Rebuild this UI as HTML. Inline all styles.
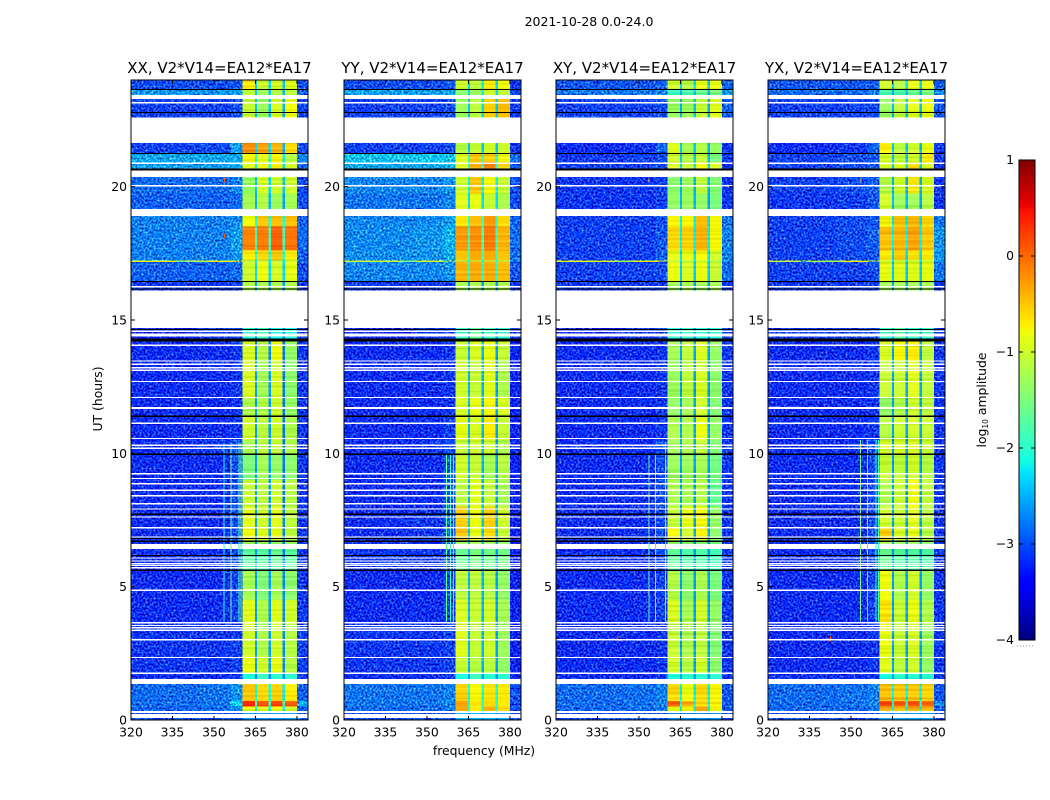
<!DOCTYPE html>
<html>
<head>
<meta charset="utf-8">
<title>2021-10-28 0.0-24.0</title>
<style>
html,body{margin:0;padding:0;background:#fff;}
svg{display:block;}
text{font-family:"DejaVu Sans","Liberation Sans",sans-serif;fill:#000;}
</style>
</head>
<body>
<svg id="figure" xmlns="http://www.w3.org/2000/svg" width="1050" height="800" viewBox="0 0 1050 800">
<defs>
<filter id="speckle" x="0" y="0" width="1" height="1" color-interpolation-filters="sRGB">
<feTurbulence type="fractalNoise" baseFrequency="0.5" numOctaves="1" seed="7" result="n"/>
<feColorMatrix in="n" type="matrix" values="1 0 0 0 0 1 0 0 0 0 1 0 0 0 0 0 0 0 0 1" result="g"/>
<feComposite in="SourceGraphic" in2="g" operator="arithmetic" k1="0" k2="1" k3="1.3" k4="-0.65" result="m"/>
<feComposite in="m" in2="SourceAlpha" operator="in"/>
</filter>
<filter id="stripes" x="0" y="0" width="1" height="1" color-interpolation-filters="sRGB">
<feTurbulence type="fractalNoise" baseFrequency="0.004 0.42" numOctaves="1" seed="11" result="n"/>
<feColorMatrix in="n" type="matrix" values="1 0 0 0 0 1 0 0 0 0 1 0 0 0 0 0 0 0 0 1" result="g"/>
<feComposite in="SourceGraphic" in2="g" operator="arithmetic" k1="0" k2="1" k3="0.35" k4="-0.175" result="m"/>
<feComposite in="m" in2="SourceAlpha" operator="in"/>
</filter>
</defs>
<rect width="1050" height="800" fill="#fff"/>
<text x="589" y="26" font-size="12.5" text-anchor="middle">2021-10-28 0.0-24.0</text>
<text x="484" y="755" font-size="12.4" text-anchor="middle">frequency (MHz)</text>
<text transform="translate(102,399) rotate(-90)" font-size="12.4" text-anchor="middle">UT (hours)</text>
<text transform="translate(986,400) rotate(-90)" font-size="12.4" text-anchor="middle">log<tspan font-size="7.5" dy="2">10</tspan><tspan dy="-2"> amplitude</tspan></text>
<g id="panels"></g>
<g id="colorbar"></g>
</svg>
<script>
// Frequency channel group edges (MHz) and UT row spans (hours)
const freqEdges = [320,345,356,360.3,364.8,365.6,369.8,370.6,374.8,375.6,380,384];
const utRows = [
[24,23.64],[23.64,23.44],[23.28,22.6],[21.64,21.25],[21.25,20.92],[20.92,20.6],[20.36,19.75],[19.75,19.17],
[18.9,18.5],[18.5,17.6],[17.6,17.24],[17.24,17.2],[17.2,16.46],[16.46,16.1],[14.7,14.3],[14.3,13.5],
[13.5,12.1],[12.1,11.4],[11.4,10.5],[10.5,10],[10,9],[9,8],[8,7.2],[7.2,6.75],
[6.75,6.6],[6.41,5.65],[5.65,4.5],[4.5,3.6],[3.6,2.4],[2.4,1.75],[1.75,1.53],[1.35,0.71],
[0.71,0.5],[0.5,0.33],[0.26,0.23],[0.08,0]
];
// log10 amplitude per row and channel group
const xxValues = [
[-3,-3,-2.95,-0.7,-2.3,-1,-2.3,-0.95,-2.4,-0.9,-3],
[-2.65,-2.65,-2.6,-1.1,-2.4,-1.3,-2.4,-1.15,-2.5,-1.1,-2.9],
[-3.05,-3.05,-3,-1.05,-2.4,-1.3,-2.4,-0.95,-2.5,-0.8,-3.05],
[-3.05,-3,-2.6,-0.2,-2.3,-0.3,-2.3,-0.4,-2.5,-0.6,-3],
[-2.55,-2.55,-2.55,-0.75,-2,-0.85,-2,-0.7,-2.2,-1.15,-2.7],
[-2.6,-2.6,-2.55,-0.9,-2.2,-0.75,-2.1,-0.7,-2.3,-0.95,-2.9],
[-2.85,-2.85,-2.75,-1.35,-2.4,-0.95,-2.3,-1,-2.4,-1,-3],
[-2.9,-2.9,-2.85,-1.25,-2.5,-1.15,-2.5,-1.3,-2.6,-1.25,-3],
[-2.75,-2.75,-2.7,-0.8,-2.1,-0.5,-2,-0.45,-2.1,-0.45,-2.9],
[-2.75,-2.75,-2.6,-0.15,-1.9,-0.1,-1.8,0.05,-1.9,-0.05,-2.85],
[-2.75,-2.75,-2.65,-0.7,-2,-0.6,-2,-0.5,-2,-0.7,-2.9],
[-1,-0.9,-1,-1.3,-2.2,-1.3,-2.2,-1.3,-2.2,-1.3,-2.6],
[-2.9,-2.9,-2.85,-1,-2.3,-0.8,-2.3,-0.95,-2.3,-0.85,-3],
[-3.1,-3.1,-3.1,-1.2,-2.6,-1.2,-2.6,-1.2,-2.6,-1.2,-3.1],
[-3.2,-3.1,-3.1,-2,-2.7,-1.9,-2.7,-2.1,-2.7,-2.1,-3.1],
[-3.15,-3.15,-3.1,-0.95,-2.7,-1.15,-2.7,-0.8,-2.8,-1.35,-3.1],
[-3.15,-3.15,-3.1,-0.95,-2.6,-1.25,-2.6,-0.95,-2.8,-1.4,-3.1],
[-3.15,-3.15,-3.1,-1.2,-2.6,-1.15,-2.6,-1,-2.8,-1.35,-3.1],
[-3.15,-3.15,-3.1,-1,-2.6,-1.1,-2.6,-1,-2.8,-1.2,-3.1],
[-3.15,-3.1,-3,-1.25,-2.6,-1.1,-2.6,-1.05,-2.8,-1.2,-3.1],
[-3.15,-3.15,-3,-1.5,-2.6,-1.25,-2.6,-1.35,-2.8,-1.4,-3.1],
[-3.15,-3.15,-3,-1.05,-2.6,-1.1,-2.6,-1,-2.8,-1.15,-3.1],
[-3.15,-3.15,-3,-0.9,-2.6,-1,-2.6,-0.85,-2.7,-1.1,-3.1],
[-3.15,-3.15,-3,-0.8,-2.6,-0.9,-2.6,-0.85,-2.7,-1.1,-3.1],
[-3.15,-3.15,-3,-1.3,-2.6,-1.3,-2.6,-1.3,-2.7,-1.3,-3.1],
[-3.15,-3.15,-3,-1.7,-2.6,-1.7,-2.6,-1.6,-2.7,-1.7,-3.1],
[-3.15,-3.15,-3.05,-1.25,-2.6,-1.45,-2.6,-1.25,-2.7,-1.4,-3.1],
[-3.15,-3.15,-3.05,-0.9,-2.6,-1.2,-2.6,-0.9,-2.7,-1,-3.1],
[-3.1,-3.1,-3.05,-1,-2.6,-1.2,-2.6,-1,-2.7,-1.15,-3.05],
[-3.1,-3.1,-3.05,-0.85,-2.6,-1,-2.6,-0.85,-2.7,-1.15,-3.05],
[-3.15,-3.15,-3.1,-2.1,-2.7,-1.9,-2.7,-2,-2.7,-2,-3.1],
[-2.85,-2.8,-2.65,-0.5,-2.1,-0.6,-2.1,-0.55,-2.2,-0.7,-2.9],
[-2.85,-2.8,-2.35,0.35,-1.8,0.1,-1.8,0.2,-1.9,0.05,-2.5],
[-2.9,-2.85,-2.7,-0.9,-2.2,-0.9,-2.2,-0.8,-2.2,-1,-2.95],
[-3,-3,-3,-2.6,-2.8,-2.6,-2.8,-2.6,-2.8,-2.6,-3],
[-3,-3,-3,-2.6,-2.8,-2.6,-2.8,-2.6,-2.8,-2.6,-3]
];
const yyValues = [
[-3,-3,-2.95,-1,-2.3,-1.1,-2.2,-0.7,-2.3,-0.8,-3.1],
[-2.6,-2.6,-2.55,-1.4,-2.3,-1.3,-2.2,-1,-2.3,-1.1,-3],
[-3.05,-3.05,-3,-1.3,-2.4,-1.1,-2.3,-0.55,-2.4,-0.45,-3.1],
[-3.05,-3.05,-3,-1.15,-2.4,-1.05,-2.4,-1,-2.4,-1,-3.1],
[-2.42,-2.4,-2.42,-0.9,-2,-0.5,-1.9,-0.55,-2,-0.8,-2.85],
[-2.55,-2.55,-2.5,-0.9,-2.1,-0.35,-2,-0.1,-2.1,-0.55,-2.95],
[-2.72,-2.72,-2.65,-1,-2.2,-0.5,-2.2,-0.75,-2.2,-1.05,-3],
[-2.8,-2.8,-2.72,-0.9,-2.3,-0.85,-2.3,-1.05,-2.3,-1.2,-3],
[-2.72,-2.7,-2.6,-0.65,-2,-0.45,-1.9,-0.25,-2,-0.6,-2.9],
[-2.7,-2.65,-2.5,-0.25,-1.9,-0.2,-1.8,-0.1,-1.9,-0.4,-2.85],
[-2.68,-2.65,-2.55,-0.5,-1.9,-0.35,-1.9,-0.35,-1.9,-0.5,-2.85],
[-1.1,-1,-1.3,-1.3,-2.2,-1.2,-2.2,-1.2,-2.2,-1.3,-2.6],
[-2.72,-2.72,-2.65,-0.4,-2,-0.35,-2,-0.35,-2,-0.45,-2.95],
[-3.1,-3.1,-3.1,-1.2,-2.6,-1.2,-2.6,-1.2,-2.6,-1.2,-3.1],
[-3.2,-3.1,-3.1,-1.9,-2.6,-1.6,-2.6,-1.9,-2.6,-2,-3.1],
[-3.15,-3.15,-3.1,-1.05,-2.5,-0.95,-2.5,-0.85,-2.6,-1.05,-3.2],
[-3.15,-3.15,-3.1,-1,-2.5,-1.05,-2.5,-0.9,-2.6,-1.2,-3.2],
[-3.15,-3.15,-3.1,-0.95,-2.5,-0.85,-2.5,-0.75,-2.6,-0.95,-3.2],
[-3.15,-3.15,-3.05,-0.85,-2.5,-0.95,-2.5,-0.7,-2.6,-1.05,-3.2],
[-3.15,-3.1,-3,-1.05,-2.5,-1,-2.5,-1,-2.6,-1.2,-3.2],
[-3.15,-3.15,-3,-1,-2.5,-1.05,-2.5,-1.25,-2.6,-1.15,-3.2],
[-3.15,-3.15,-3,-1.1,-2.5,-0.9,-2.5,-1.05,-2.6,-1.25,-3.2],
[-3.15,-3.1,-2.95,-0.55,-2.4,-0.8,-2.4,-0.55,-2.5,-1,-3.2],
[-3.15,-3.1,-2.95,-0.5,-2.4,-0.85,-2.4,-0.6,-2.5,-1.05,-3.2],
[-3.15,-3.15,-3,-1.3,-2.5,-1.25,-2.5,-1.3,-2.6,-1.35,-3.2],
[-3.1,-3.1,-3,-1.6,-2.5,-1.5,-2.5,-1.55,-2.6,-1.55,-3.2],
[-3.15,-3.15,-3.05,-1.1,-2.5,-1.1,-2.5,-1.15,-2.6,-1.35,-3.2],
[-3.15,-3.15,-3.05,-0.95,-2.5,-1.05,-2.5,-1,-2.6,-1.25,-3.2],
[-3.1,-3.1,-3.05,-0.9,-2.5,-1.05,-2.5,-1,-2.6,-1.3,-3.2],
[-3.1,-3.1,-3.05,-1.05,-2.5,-1.15,-2.5,-1.1,-2.6,-1.35,-3.2],
[-3.15,-3.15,-3.1,-2.1,-2.6,-1.9,-2.6,-2,-2.6,-2,-3.2],
[-2.8,-2.8,-2.75,-0.55,-2.1,-0.75,-2.1,-0.65,-2.1,-0.7,-3],
[-2.8,-2.8,-2.7,-0.3,-2,-0.65,-2,-0.6,-2,-0.7,-3],
[-2.85,-2.85,-2.75,-0.35,-2.1,-0.7,-2.1,-0.4,-2.1,-0.6,-3],
[-3,-3,-3,-2.5,-2.8,-2.5,-2.8,-2.5,-2.8,-2.5,-3],
[-3,-3,-3,-2.5,-2.8,-2.5,-2.8,-2.5,-2.8,-2.5,-3]
];
const xyValues = [
[-2.95,-2.95,-2.9,-1,-2.4,-1.15,-2.3,-0.85,-2.4,-0.85,-2.9],
[-2.8,-2.8,-2.75,-1.9,-2.5,-1.8,-2.4,-1.6,-2.5,-1.5,-2.6],
[-3.05,-3.05,-3,-1.3,-2.5,-1.3,-2.4,-1.05,-2.5,-0.9,-2.9],
[-3.15,-3.1,-2.9,-0.9,-2.4,-1.25,-2.4,-1.15,-2.5,-1.35,-3.1],
[-3.1,-3.05,-3,-1,-2.4,-1.15,-2.4,-1.05,-2.5,-1.5,-3.1],
[-3.05,-3.05,-3,-0.95,-2.4,-1.05,-2.3,-0.75,-2.4,-0.95,-3.1],
[-3.1,-3.1,-3.05,-1.4,-2.5,-1.3,-2.5,-1.1,-2.5,-1.45,-3.1],
[-3.1,-3.1,-3.05,-1.35,-2.5,-1.3,-2.5,-1.35,-2.6,-1.5,-3.1],
[-3.05,-3.05,-3,-0.75,-2.2,-0.75,-2.2,-0.45,-2.3,-0.75,-2.8],
[-3.05,-3.05,-2.95,-0.6,-2.2,-0.55,-2.2,-0.4,-2.2,-0.75,-2.75],
[-3.05,-3.05,-2.9,-0.85,-2.3,-0.85,-2.3,-0.75,-2.3,-1,-2.75],
[-0.9,-0.95,-1,-1.3,-2.2,-1.3,-2.2,-1.3,-2.2,-1.3,-2.6],
[-3.05,-3.05,-3,-0.85,-2.4,-0.95,-2.4,-0.85,-2.4,-1.05,-2.85],
[-3.1,-3.1,-3.1,-1.25,-2.6,-1.25,-2.6,-1.25,-2.6,-1.25,-3.1],
[-3.2,-3.1,-3.1,-2,-2.6,-1.9,-2.6,-2,-2.6,-2,-3.1],
[-3.15,-3.15,-3.1,-1.25,-2.6,-1.1,-2.6,-0.95,-2.6,-1.35,-3.1],
[-3.15,-3.15,-3.1,-1.3,-2.6,-1.1,-2.6,-0.95,-2.6,-1.4,-3.1],
[-3.15,-3.15,-3.1,-1.35,-2.6,-1.25,-2.6,-1,-2.6,-1.45,-3.1],
[-3.15,-3.15,-3.1,-1.2,-2.6,-1.2,-2.6,-0.85,-2.6,-1.35,-3.1],
[-3.15,-3.15,-3,-1.25,-2.6,-1.2,-2.6,-1.05,-2.6,-1.45,-3.1],
[-3.15,-3.15,-3,-1.3,-2.6,-1.3,-2.6,-1.25,-2.6,-1.55,-3.1],
[-3.15,-3.15,-3,-1.2,-2.6,-1.25,-2.6,-1.15,-2.6,-1.65,-3.1],
[-3.15,-3.15,-3,-1.05,-2.6,-0.85,-2.6,-0.75,-2.6,-1.35,-3.1],
[-3.15,-3.15,-3,-0.75,-2.6,-1,-2.6,-0.7,-2.6,-1.4,-3.1],
[-3.15,-3.15,-3,-1.3,-2.6,-1.4,-2.6,-1.4,-2.6,-1.5,-3.1],
[-3.15,-3.15,-3,-1.65,-2.6,-1.75,-2.6,-1.75,-2.6,-1.85,-3.1],
[-3.15,-3.15,-3.05,-1.15,-2.6,-1.4,-2.6,-1.2,-2.6,-1.5,-3.1],
[-3.15,-3.15,-3.05,-0.95,-2.6,-1.25,-2.6,-1,-2.6,-1.35,-3.1],
[-3.15,-3.15,-3.1,-1.05,-2.6,-1.2,-2.6,-1.1,-2.6,-1.45,-3.1],
[-3.15,-3.15,-3.1,-1,-2.6,-1.15,-2.6,-1,-2.6,-1.4,-3.1],
[-3.15,-3.15,-3.1,-2.1,-2.6,-2,-2.6,-2,-2.6,-2,-3.1],
[-2.85,-2.82,-2.75,-0.6,-2.2,-0.8,-2.2,-0.6,-2.2,-0.75,-2.95],
[-2.85,-2.82,-2.75,0.05,-2.1,-0.35,-2.1,-0.6,-2.1,-0.7,-2.9],
[-2.88,-2.85,-2.8,-0.85,-2.2,-0.75,-2.2,-0.35,-2.2,-0.75,-2.95],
[-3,-3,-3,-2.6,-2.8,-2.6,-2.8,-2.6,-2.8,-2.6,-3],
[-3,-3,-3,-2.6,-2.8,-2.6,-2.8,-2.6,-2.8,-2.6,-3]
];
const yxValues = [
[-2.95,-2.95,-2.9,-1,-2.4,-1.15,-2.3,-0.85,-2.4,-0.85,-2.9],
[-2.85,-2.85,-2.8,-1.8,-2.5,-1.8,-2.4,-1.6,-2.5,-1.5,-2.7],
[-3.05,-3.05,-3,-1.3,-2.5,-1.1,-2.4,-0.9,-2.5,-0.85,-2.95],
[-3.15,-3.1,-2.9,-0.7,-2.4,-1.1,-2.4,-1,-2.5,-0.85,-3.1],
[-3.05,-3,-2.95,-0.95,-2.4,-1.1,-2.4,-1,-2.5,-0.7,-3.1],
[-3.05,-3,-2.95,-0.95,-2.4,-0.95,-2.3,-0.6,-2.4,-0.95,-3.1],
[-3.05,-3,-2.9,-1.15,-2.5,-1,-2.5,-0.7,-2.5,-0.95,-3.1],
[-3.1,-3.05,-2.95,-1,-2.5,-1.3,-2.5,-1.3,-2.6,-1.15,-3.1],
[-3.05,-3,-2.95,-0.75,-2.2,-0.5,-2.2,-0.45,-2.3,-0.6,-2.8],
[-3.05,-3,-2.9,-0.45,-2.2,-0.4,-2.2,-0.3,-2.2,-0.5,-2.65],
[-3.05,-3,-2.95,-0.7,-2.3,-0.55,-2.3,-0.65,-2.3,-0.7,-2.65],
[-0.95,-1,-1.1,-1.3,-2.2,-1.3,-2.2,-1.3,-2.2,-1.3,-2.6],
[-3.05,-3.05,-3,-0.85,-2.4,-0.9,-2.4,-0.9,-2.4,-0.85,-2.8],
[-3.1,-3.1,-3.1,-1.25,-2.6,-1.25,-2.6,-1.25,-2.6,-1.25,-3.1],
[-3.1,-3.05,-3,-1.9,-2.5,-1.7,-2.5,-1.9,-2.6,-1.9,-3.1],
[-3.15,-3.15,-3.1,-0.95,-2.6,-0.75,-2.6,-0.7,-2.6,-1.1,-3.1],
[-3.15,-3.15,-3.1,-1.05,-2.6,-1.05,-2.6,-0.9,-2.6,-1.1,-3.1],
[-3.15,-3.15,-3.1,-1.35,-2.6,-1.2,-2.6,-1,-2.6,-1.1,-3.1],
[-3.15,-3.15,-3.1,-1.15,-2.6,-1.05,-2.6,-1,-2.6,-1.05,-3.1],
[-3.15,-3.15,-3,-0.95,-2.6,-0.95,-2.6,-0.9,-2.6,-1.05,-3.1],
[-3.15,-3.15,-3,-1.05,-2.6,-1.1,-2.6,-1,-2.6,-1.15,-3.1],
[-3.15,-3.15,-3,-1.2,-2.6,-1.05,-2.6,-0.8,-2.6,-1.1,-3.1],
[-3.15,-3.15,-3,-1,-2.6,-1.05,-2.6,-0.9,-2.6,-1.15,-3.1],
[-3.15,-3.15,-3,-0.55,-2.6,-0.95,-2.6,-0.85,-2.6,-1.15,-3.1],
[-3.15,-3.15,-3,-1.2,-2.6,-1.3,-2.6,-1.25,-2.6,-1.4,-3.1],
[-3.15,-3.15,-3,-1.6,-2.6,-1.7,-2.6,-1.7,-2.6,-1.75,-3.1],
[-3.15,-3.15,-3.05,-0.8,-2.6,-1.2,-2.6,-1,-2.6,-1.35,-3.1],
[-3.15,-3.15,-3.05,-0.65,-2.6,-1.05,-2.6,-0.85,-2.6,-1.2,-3.1],
[-3.15,-3.15,-3.1,-0.85,-2.6,-1.05,-2.6,-0.95,-2.6,-1.3,-3.1],
[-3.15,-3.15,-3.1,-0.9,-2.6,-1.1,-2.6,-1,-2.6,-1.35,-3.1],
[-3.15,-3.15,-3.1,-2.1,-2.6,-2,-2.6,-2,-2.6,-2,-3.1],
[-2.85,-2.82,-2.75,-0.45,-2.2,-0.5,-2.2,-0.5,-2.2,-0.55,-2.95],
[-2.85,-2.82,-2.7,0.15,-2,0.05,-2,0.1,-2,0,-2.7],
[-2.88,-2.85,-2.8,-0.35,-2.2,-0.45,-2.2,-0.35,-2.2,-0.45,-2.95],
[-3,-3,-3,-2.6,-2.8,-2.6,-2.8,-2.6,-2.8,-2.6,-3],
[-3,-3,-3,-2.6,-2.8,-2.6,-2.8,-2.6,-2.8,-2.6,-3]
];
// Flagged UT ranges: blank (white) rows and zero-valued (black) rows
const blankRanges = [
[23.17,23.12],[20.9,20.85],[20.06,20.01],[16.28,16.22],[14.6,14.55],[14.49,14.38],[14.08,14.03],[13.49,13.44],
[13.37,13.32],[13.24,13.19],[13.14,13.09],[12.72,12.67],[12.12,12.07],[11.74,11.66],[11.15,11.1],[10.58,10.53],
[10.33,10.27],[10.22,10.16],[9.26,9.21],[9.08,9.03],[8.89,8.84],[8.65,8.58],[8.44,8.39],[8.14,8.09],
[7.94,7.89],[7.64,7.59],[7.23,7.18],[6.89,6.84],[6.1,6.05],[5.99,5.94],[5.89,5.84],[5.82,5.77],
[5.74,5.69],[4.89,4.84],[3.67,3.62],[3.57,3.52],[3.49,3.44],[3.39,3.34],[3.04,2.99],[2.37,2.32],[1.78,1.72]
];
const zeroRanges = [
[23.66,23.62],[22.8,22.76],[21.26,21.22],[20.68,20.6],[16.47,16.43],[16.18,16.14],[14.66,14.62],[14.3,14.2],
[11.41,11.37],[10,9.94],[7.75,7.69],[6.82,6.78],[6.74,6.68],[6.19,6.15],[5.65,5.58]
];
// Narrow interference: [freq MHz, UT top, UT bottom, log10 amplitude]
const xxStreaks = [[353.4,10.4,3.7,-2.1],[355.9,10.4,3.7,-1.6],[358.8,10.4,3.7,-1.8],[359.6,10.4,3.7,-1.8],[353.6,20.35,20.15,0.1],[353.6,18.25,18.05,0.1]];
const yyStreaks = [[356.8,10,3.7,-1.6],[358.3,10,3.7,-1.9],[359.4,10,3.7,-1.8]];
const xyStreaks = [[353.5,10,3.7,-1.7],[355.8,10,3.7,-1.8],[359.4,10.4,3.7,-1.7],[353.4,20.3,20.15,-0.4],[342.2,3.15,2.95,0.2]];
const yxStreaks = [[353.2,10.5,3.7,-1.5],[355.8,10.5,3.7,-2],[358.9,10.5,3.7,-1.9],[359.7,10.5,3.7,-1.9],[353.4,20.3,20.15,-0.3],[342.4,3.15,2.95,0.2]];
// Horizontal interference bursts: [freq start, freq end, UT, log10 amplitude]
const xxBursts = [[320,336,17.22,-0.75],[336,340,17.22,-1.7],[340,348,17.22,-1.2],[348,358,17.22,-0.7]];
const yyBursts = [[320,340,17.22,-1.05],[340,347,17.22,-1.6],[347,356,17.22,-0.9]];
const xyBursts = [[320,340,17.22,-0.85],[340,348,17.22,-1.3],[348,357,17.22,-0.7]];
const yxBursts = [[320,332,17.22,-1.1],[332,334,17.22,-2.6],[334,347,17.22,-1.3],[347,356,17.22,-0.7]];
const panelTitles = ["XX, V2*V14=EA12*EA17","YY, V2*V14=EA12*EA17","XY, V2*V14=EA12*EA17","YX, V2*V14=EA12*EA17"];
const panelKeys = ["xx","yy","xy","yx"];
const freqTicks = [320,335,350,365,380];
const utTicks = [0,5,10,15,20];
const colorTicks = [-4,-3,-2,-1,0,1];

const panelValues = [xxValues,yyValues,xyValues,yxValues];
const panelStreaks = [xxStreaks,yyStreaks,xyStreaks,yxStreaks];
const panelBursts = [xxBursts,yyBursts,xyBursts,yxBursts];
const panelLefts = [131,344,556,768];
const PW = 177, PT = 80, PB = 720;
const CB = {x:1019,w:16,top:160,bottom:640};
const NS = "http://www.w3.org/2000/svg";
function mk(tag,attrs,parent){const e=document.createElementNS(NS,tag);for(const k in attrs)e.setAttribute(k,attrs[k]);parent.appendChild(e);return e;}
function jet(v){
  const t=Math.max(0,Math.min(1,(v+4)/5));
  const seg=(a)=>{for(let i=0;i<a.length-1;i++){if(t<=a[i+1][0]){const f=(t-a[i][0])/(a[i+1][0]-a[i][0]);return a[i][1]+f*(a[i+1][1]-a[i][1]);}}return a[a.length-1][1];};
  const r=seg([[0,0],[0.35,0],[0.66,1],[0.89,1],[1,0.5]]);
  const g=seg([[0,0],[0.125,0],[0.375,1],[0.64,1],[0.91,0],[1,0]]);
  const b=seg([[0,0.5],[0.11,1],[0.34,1],[0.65,0],[1,0]]);
  return "rgb("+Math.round(r*255)+","+Math.round(g*255)+","+Math.round(b*255)+")";
}
const yScale = (ut)=>PB-(ut/24)*(PB-PT);
const xScale = (left,f)=>left+((f-320)/64)*PW;
const root = document.getElementById("panels");
const bgCols = [0,1,2,10];

panelKeys.forEach((key,p)=>{
  const left = panelLefts[p];
  const g = mk("g",{},root);
  
  
  const title = mk("text",{x:left+PW/2,y:73,"font-size":"15","text-anchor":"middle"},g);
  title.textContent = panelTitles[p];
  
  
  const bgGroup = mk("g",{filter:"url(#speckle)","shape-rendering":"crispEdges"},g);
  
  
  const bandGroup = mk("g",{filter:"url(#stripes)","shape-rendering":"crispEdges"},g);
  
  
  utRows.forEach((row,r)=>{
    panelValues[p][r].forEach((val,c)=>{
      const x0=xScale(left,freqEdges[c]),x1=xScale(left,freqEdges[c+1]);
      const y0=yScale(row[0]),y1=yScale(row[1]);
      const parent = bgCols.includes(c)?bgGroup:bandGroup;
      const cell = mk("rect",{x:x0.toFixed(2),y:y0.toFixed(2),width:(x1-x0).toFixed(2),height:Math.max(1,y1-y0).toFixed(2),fill:jet(val)},parent);
      
      
    });
  });
  const flags = mk("g",{"shape-rendering":"crispEdges"},g);
  
  
  panelStreaks[p].forEach((s)=>{
    const x=xScale(left,s[0]);
    const st = mk("rect",{x:x.toFixed(2),y:yScale(s[1]).toFixed(2),width:1,height:(yScale(s[2])-yScale(s[1])).toFixed(2),fill:jet(s[3])},flags);
    
    
  });
  panelBursts[p].forEach((s)=>{
    const x0=xScale(left,s[0]),x1=xScale(left,s[1]);
    const st = mk("rect",{x:x0.toFixed(2),y:yScale(s[2]).toFixed(2),width:(x1-x0).toFixed(2),height:1.2,fill:jet(s[3])},flags);
    
    
  });
  blankRanges.forEach((b)=>{
    const rc = mk("rect",{x:left,y:yScale(b[0]).toFixed(2),width:PW,height:Math.max(1,yScale(b[1])-yScale(b[0])).toFixed(2),fill:"#fff"},flags);
    
    
  });
  zeroRanges.forEach((b)=>{
    const rc = mk("rect",{x:left,y:yScale(b[0]).toFixed(2),width:PW,height:Math.max(1,yScale(b[1])-yScale(b[0])).toFixed(2),fill:"#000"},flags);
    
    
  });
  freqTicks.forEach((f)=>{
    const x=xScale(left,f);
    const t1 = mk("line",{x1:x,x2:x,y1:PB,y2:PB-4,stroke:"#000","stroke-width":1},g);
    
    
    const t2 = mk("line",{x1:x,x2:x,y1:PT,y2:PT+4,stroke:"#000","stroke-width":1},g);
    
    
    const lab = mk("text",{x:x,y:736.5,"font-size":"12.4","text-anchor":"middle"},g);
    lab.textContent = f;
    
    
  });
  utTicks.forEach((u)=>{
    const y=yScale(u);
    const t1 = mk("line",{x1:left,x2:left+4,y1:y,y2:y,stroke:"#000","stroke-width":1},g);
    
    
    const t2 = mk("line",{x1:left+PW,x2:left+PW-4,y1:y,y2:y,stroke:"#000","stroke-width":1},g);
    
    
    const lab = mk("text",{x:left-4,y:y+4.5,"font-size":"12.4","text-anchor":"end"},g);
    lab.textContent = u;
    
    
  });
  const frame = mk("rect",{x:left,y:PT,width:PW,height:PB-PT,fill:"none",stroke:"#000","stroke-width":1},g);
  
  
});

const cb = document.getElementById("colorbar");
const cbScale = (v)=>CB.bottom-((v+4)/5)*(CB.bottom-CB.top);
const cbRamp = mk("g",{"shape-rendering":"crispEdges"},cb);


for(let y=CB.top;y<CB.bottom;y+=2){
  const v=-4+5*(CB.bottom-y-1)/(CB.bottom-CB.top);
  mk("rect",{x:CB.x,y:y,width:CB.w,height:2,fill:jet(v)},cbRamp);
}
colorTicks.forEach((v)=>{
  const y=cbScale(v);
  const t1 = mk("line",{x1:CB.x,x2:CB.x+4,y1:y,y2:y,stroke:"#000","stroke-width":1},cb);
  
  
  const t2 = mk("line",{x1:CB.x+CB.w,x2:CB.x+CB.w-4,y1:y,y2:y,stroke:"#000","stroke-width":1},cb);
  
  
  const lab = mk("text",{x:CB.x-5,y:y+4,"font-size":"12.4","text-anchor":"end"},cb);
  lab.textContent = v<0 ? "\u2212"+Math.abs(v) : String(v);
  
  
});
const cbFrame = mk("rect",{x:CB.x,y:CB.top,width:CB.w,height:CB.bottom-CB.top,fill:"none",stroke:"#000","stroke-width":1},cb);


const cbDots = mk("line",{x1:CB.x-2,x2:CB.x+CB.w,y1:646,y2:646,stroke:"#888","stroke-width":1,"stroke-dasharray":"1 2"},cb);


</script>
</body>
</html>
